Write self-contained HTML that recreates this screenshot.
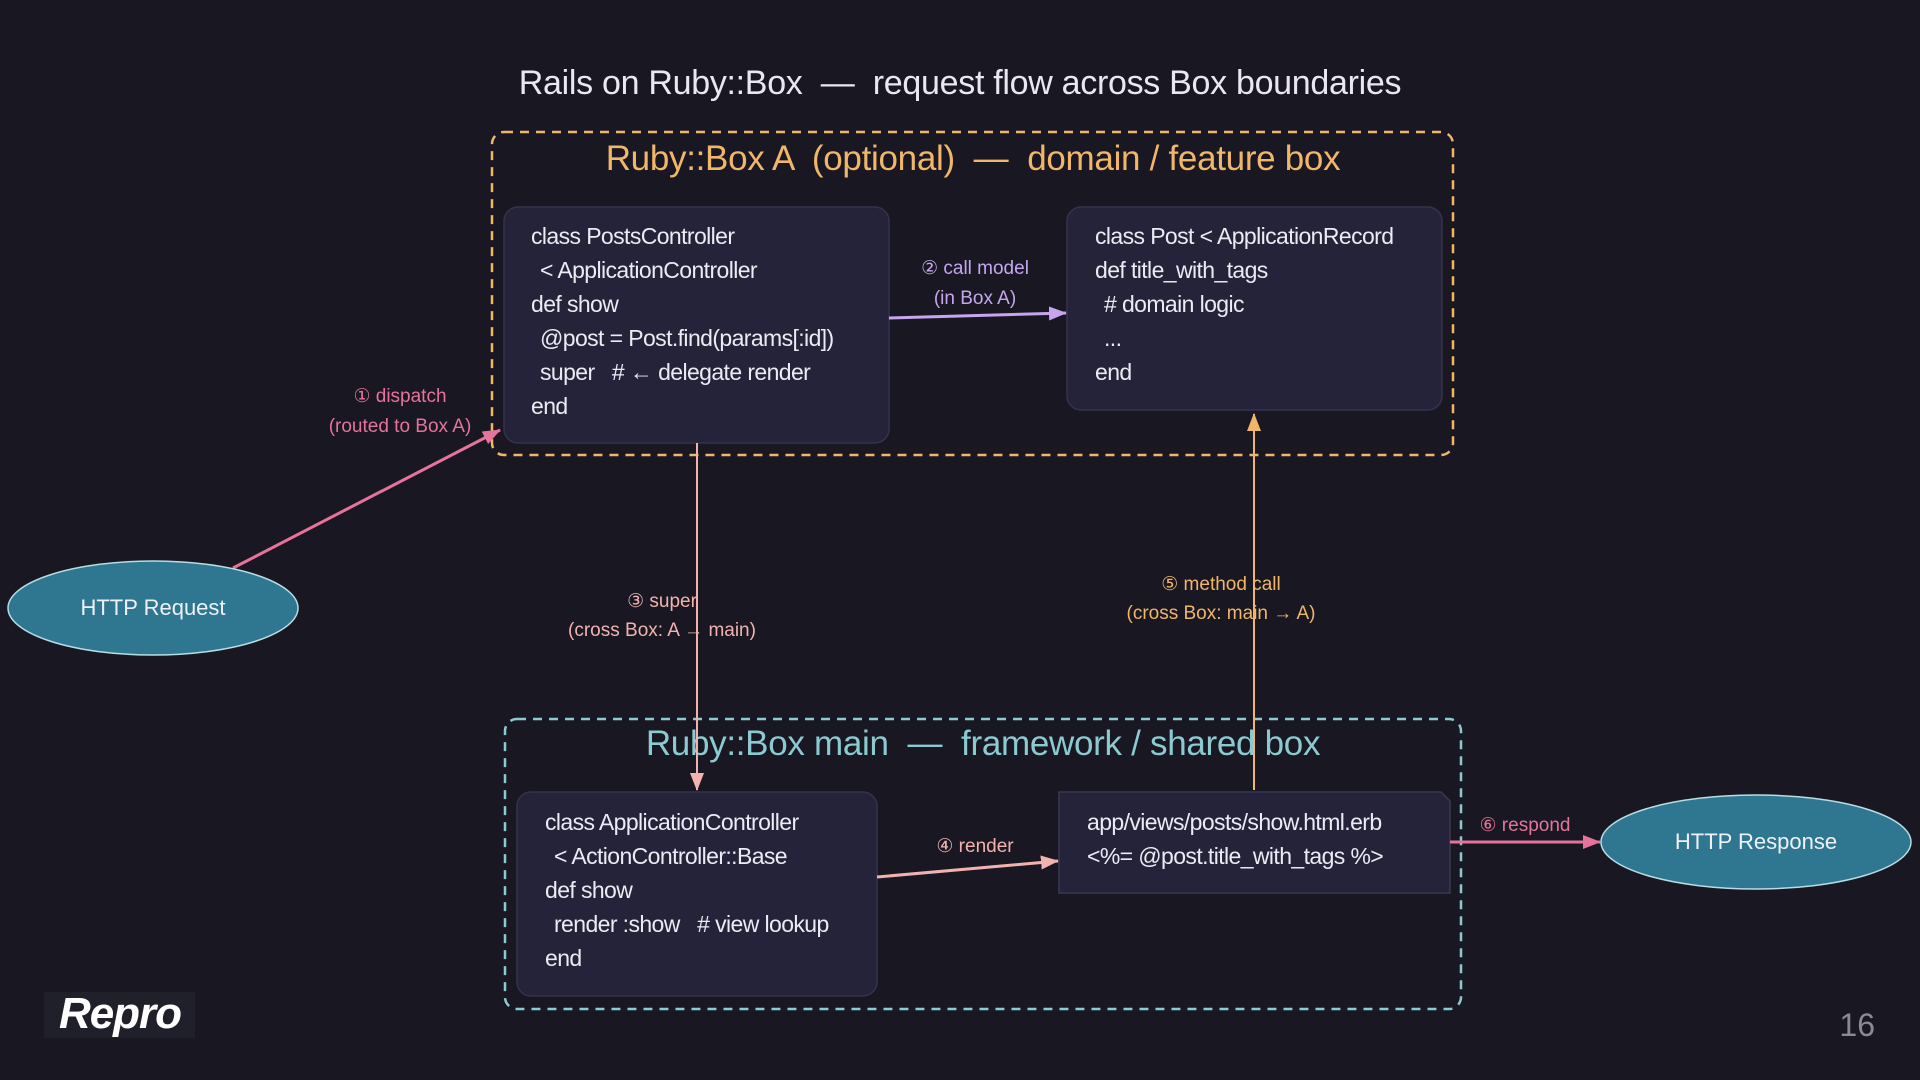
<!DOCTYPE html>
<html><head><meta charset="utf-8"><style>
html,body{margin:0;padding:0;background:#191722;}
svg{display:block}
text{font-family:"Liberation Sans","DejaVu Sans",sans-serif;white-space:pre}
.code{fill:#ecebf4;font-size:23px;letter-spacing:-0.6px}
</style></head><body>
<svg width="1920" height="1080" viewBox="0 0 1920 1080" xmlns="http://www.w3.org/2000/svg" xml:space="preserve">
<defs>
<marker id="mPu" markerWidth="18" markerHeight="14" refX="17" refY="7" orient="auto" markerUnits="userSpaceOnUse"><path d="M0,0 L18,7 L0,14z" fill="#c5a6ef"/></marker>
<marker id="mLp" markerWidth="18" markerHeight="14" refX="17" refY="7" orient="auto" markerUnits="userSpaceOnUse"><path d="M0,0 L18,7 L0,14z" fill="#f2b3b0"/></marker>
<marker id="mOr" markerWidth="18" markerHeight="14" refX="17" refY="7" orient="auto" markerUnits="userSpaceOnUse"><path d="M0,0 L18,7 L0,14z" fill="#f0b669"/></marker>
<marker id="mPk2" markerWidth="18" markerHeight="14" refX="17" refY="7" orient="auto" markerUnits="userSpaceOnUse"><path d="M0,0 L18,7 L0,14z" fill="#e6739a"/></marker>
</defs>
<rect width="1920" height="1080" fill="#191722"/>
<text x="960" y="94" text-anchor="middle" fill="#e8e8f0" font-size="34" letter-spacing="-0.3">Rails on Ruby::Box  —  request flow across Box boundaries</text>

<rect x="492" y="132" width="961" height="323" rx="12" fill="none" stroke="#f0b669" stroke-width="2.5" stroke-dasharray="9,7"/>
<text x="973" y="170" text-anchor="middle" fill="#f0b669" font-size="35" letter-spacing="-0.3">Ruby::Box A  (optional)  —  domain / feature box</text>
<rect x="504" y="207" width="385" height="236" rx="14" fill="#25233a" stroke="#35334a" stroke-width="1.5"/>
<text class="code"><tspan x="531" y="244">class PostsController</tspan><tspan x="540" y="278">&lt; ApplicationController</tspan><tspan x="531" y="312">def show</tspan><tspan x="540" y="346">@post = Post.find(params[:id])</tspan><tspan x="540" y="380">super   # ← delegate render</tspan><tspan x="531" y="414">end</tspan></text>
<rect x="1067" y="207" width="375" height="203" rx="14" fill="#25233a" stroke="#35334a" stroke-width="1.5"/>
<text class="code"><tspan x="1095" y="244">class Post &lt; ApplicationRecord</tspan><tspan x="1095" y="278">def title_with_tags</tspan><tspan x="1104" y="312"># domain logic</tspan><tspan x="1104" y="346">...</tspan><tspan x="1095" y="380">end</tspan></text>

<rect x="505" y="719" width="956" height="290" rx="12" fill="none" stroke="#8ccad2" stroke-width="2.5" stroke-dasharray="9,7"/>
<text x="983" y="755" text-anchor="middle" fill="#8ccad2" font-size="35" letter-spacing="-0.3">Ruby::Box main  —  framework / shared box</text>
<rect x="517" y="792" width="360" height="204" rx="14" fill="#25233a" stroke="#35334a" stroke-width="1.5"/>
<text class="code"><tspan x="545" y="830">class ApplicationController</tspan><tspan x="554" y="864">&lt; ActionController::Base</tspan><tspan x="545" y="898">def show</tspan><tspan x="554" y="932">render :show   # view lookup</tspan><tspan x="545" y="966">end</tspan></text>
<path d="M1059,792 L1441,792 L1450,801 L1450,893 L1059,893 Z" fill="#25233a" stroke="#3a3850" stroke-width="1.5"/>
<text class="code"><tspan x="1087" y="830">app/views/posts/show.html.erb</tspan><tspan x="1087" y="864">&lt;%= @post.title_with_tags %&gt;</tspan></text>

<line x1="233" y1="568" x2="500" y2="430" stroke="#e6739a" stroke-width="3" marker-end="url(#mPk2)"/>
<text text-anchor="middle" fill="#e6739a" font-size="19"><tspan x="400" y="402">① dispatch</tspan><tspan x="400" y="432">(routed to Box A)</tspan></text>

<line x1="889" y1="318" x2="1066" y2="313" stroke="#c5a6ef" stroke-width="3" marker-end="url(#mPu)"/>
<text fill="#c5a6ef" font-size="19" text-anchor="middle"><tspan x="975" y="274">② call model</tspan><tspan x="975" y="304">(in Box A)</tspan></text>

<line x1="697" y1="443" x2="697" y2="790" stroke="#f2b3b0" stroke-width="2" marker-end="url(#mLp)"/>
<text fill="#f2b3b0" font-size="19" text-anchor="middle"><tspan x="662" y="607">③ super</tspan><tspan x="662" y="636">(cross Box: A → main)</tspan></text>

<line x1="1254" y1="790" x2="1254" y2="414" stroke="#f0b669" stroke-width="2" marker-end="url(#mOr)"/>
<text fill="#f0b669" font-size="19" text-anchor="middle"><tspan x="1221" y="590">⑤ method call</tspan><tspan x="1221" y="619">(cross Box: main → A)</tspan></text>

<line x1="877" y1="877" x2="1058" y2="861" stroke="#f2b3b0" stroke-width="3" marker-end="url(#mLp)"/>
<text x="975" y="852" text-anchor="middle" fill="#f2b3b0" font-size="19">④ render</text>

<line x1="1450" y1="842" x2="1600" y2="842" stroke="#e6739a" stroke-width="3" marker-end="url(#mPk2)"/>
<text x="1525" y="831" text-anchor="middle" fill="#e6739a" font-size="19">⑥ respond</text>

<ellipse cx="153" cy="608" rx="145" ry="47" fill="#2f7690" stroke="#b8dde4" stroke-width="1.5"/>
<text x="153" y="615" text-anchor="middle" fill="#eef2f6" font-size="22">HTTP Request</text>
<ellipse cx="1756" cy="842" rx="155" ry="47" fill="#2f7690" stroke="#b8dde4" stroke-width="1.5"/>
<text x="1756" y="849" text-anchor="middle" fill="#eef2f6" font-size="22">HTTP Response</text>

<rect x="44" y="992" width="151" height="46" fill="#20202a"/>
<text x="120" y="1028" text-anchor="middle" fill="#ffffff" font-size="44" font-weight="bold" font-style="italic" font-family="Liberation Serif,serif" letter-spacing="-1">Repro</text>
<text x="1875" y="1036" text-anchor="end" fill="#8a8a94" font-size="32">16</text>
</svg>
</body></html>
